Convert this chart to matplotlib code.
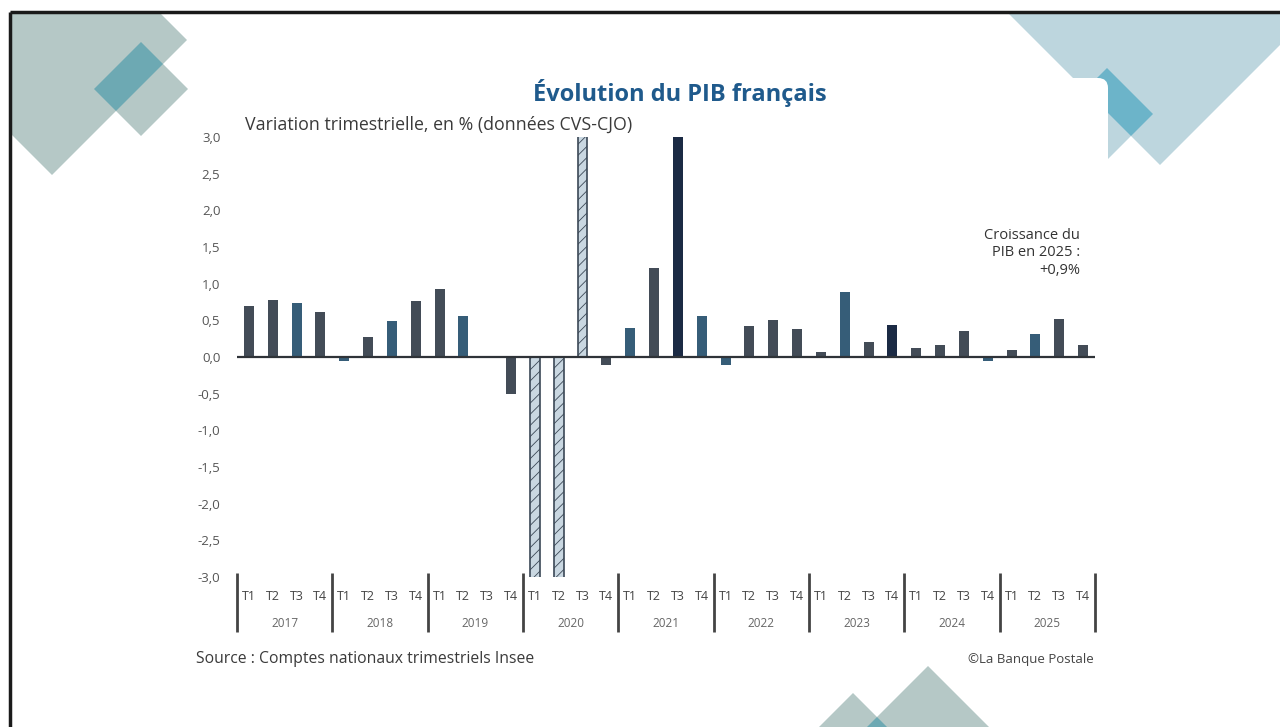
import numpy as np
import matplotlib
matplotlib.use("Agg")
import matplotlib.pyplot as plt
from matplotlib.patches import Polygon, FancyBboxPatch, Rectangle

# data
years = ["2017", "2018", "2019", "2020", "2021", "2022", "2023", "2024", "2025"]
quarters = ["T1", "T2", "T3", "T4"]
pib_var = [0.69, 0.78, 0.73, 0.61,
           -0.05, 0.27, 0.49, 0.76,
           0.93, 0.56, -0.01, -0.50,
           -5.4, -13.2, 18.6, -0.11,
           0.40, 1.21, 3.00, 0.56,
           -0.11, 0.42, 0.51, 0.38,
           0.07, 0.88, 0.20, 0.43,
           0.12, 0.17, 0.36, -0.05,
           0.09, 0.32, 0.52, 0.16]
yticks = [3.0, 2.5, 2.0, 1.5, 1.0, 0.5, 0.0, -0.5, -1.0, -1.5, -2.0, -2.5, -3.0]

# styles
DARK = "#434c57"
BLUE = "#365d78"
NAVY = "#1b2a44"
COVID = "#c9d7e1"
kinds = "ddbd" "bdbd" "dbdd" "cccd" "bdnb" "bddd" "dbdn" "dddb" "dbdd"
cmap = {"d": DARK, "b": BLUE, "n": NAVY, "c": COVID}

W, H = 1280, 727
plt.rcParams["font.family"] = ["Open Sans", "DejaVu Sans"]
plt.rcParams["hatch.linewidth"] = 0.6

fig = plt.figure(figsize=(W / 100, H / 100), dpi=100)
fig.patch.set_facecolor("white")


def fx(x):
    return x / W


def fy(y):
    return 1 - y / H


# background layer with decorations, in pixel coordinates
bg = fig.add_axes([0, 0, 1, 1], zorder=0)
bg.set_xlim(0, W)
bg.set_ylim(H, 0)
bg.axis("off")

LIGHT_G = "#b5c8c6"
DARK_G = "#6da9b3"
LIGHT_B = "#bdd6de"
DARK_B = "#6cb4c9"


def diamond(cx, cy, r):
    return [(cx, cy - r), (cx + r, cy), (cx, cy + r), (cx - r, cy)]


def deco(big, small, light, dark):
    p_big = Polygon(big, closed=True, fc=light, ec="none", zorder=1)
    bg.add_patch(p_big)
    bg.add_patch(Polygon(small, closed=True, fc=light, ec="none", zorder=1))
    ov = Polygon(small, closed=True, fc=dark, ec="none", zorder=2)
    bg.add_patch(ov)
    ov.set_clip_path(p_big)


# top left
deco(diamond(52, 40, 135), diamond(141, 89, 47), LIGHT_G, DARK_G)
# top right
deco(diamond(1160, -85, 250), diamond(1107, 114, 46), LIGHT_B, DARK_B)
# bottom
deco(diamond(928, 900, 234), diamond(853, 780, 87), LIGHT_G, DARK_G)

# white chart panel
bg.add_patch(FancyBboxPatch((190, 78), 918, 587, boxstyle="round,pad=0,rounding_size=10",
                            fc="white", ec="none", zorder=3))
# white margin outside frame
bg.add_patch(Rectangle((0, 0), 10, H, fc="white", ec="none", zorder=4))
bg.add_patch(Rectangle((0, 0), W, 12, fc="white", ec="none", zorder=4))
bg.plot([10, 10], [12, H], color="#1a1a1a", lw=2.5, zorder=5, solid_capstyle="butt")
bg.plot([10, W], [12, 12], color="#1a1a1a", lw=2.5, zorder=5, solid_capstyle="butt")

# chart
left, right, top, bottom = 237, 1095, 137, 577
ax = fig.add_axes([fx(left), fy(bottom), fx(right - left), (bottom - top) / H], zorder=2)
ax.patch.set_alpha(0)

x = np.arange(len(pib_var))
for xi, v, k in zip(x, pib_var, kinds):
    if k == "c":
        ax.bar(xi, v, width=0.40, color=COVID, edgecolor="#3b4856", linewidth=1.2,
               hatch="///", zorder=2)
    else:
        ax.bar(xi, v, width=0.42, color=cmap[k], zorder=2)

ax.axhline(0, color="#2f3338", lw=1.6, zorder=3)
ax.set_xlim(-0.5, len(pib_var) - 0.5)
ax.set_ylim(-3, 3)
for s in ax.spines.values():
    s.set_visible(False)

ax.set_yticks(yticks)
ax.set_yticklabels([f"{v:.1f}".replace(".", ",") for v in yticks],
                   fontsize=9.5, color="#555555")
ax.tick_params(axis="y", length=0, pad=12)

ax.set_xticks(x)
ax.set_xticklabels(quarters * len(years), fontsize=9, color="#444444")
ax.tick_params(axis="x", length=0, pad=9)

trans = ax.get_xaxis_transform()
for i, yr in enumerate(years):
    ax.text(i * 4 + 1.5, -0.105, yr, transform=trans, ha="center", va="center",
            fontsize=8.5, color="#666666")
for i in range(len(years) + 1):
    ax.plot([i * 4 - 0.5, i * 4 - 0.5], [0.01, -0.125], transform=trans, color="#444444",
            lw=2, clip_on=False, solid_capstyle="butt")

# texts
fig.text(fx(680), fy(93), "Évolution du PIB français", ha="center", va="center",
         fontsize=17, fontweight="bold", color="#1f5a8c")
fig.text(fx(245), fy(125), "Variation trimestrielle, en % (données CVS-CJO)", ha="left",
         va="center", fontsize=12.8, color="#3a3a3a")
fig.text(fx(1080), fy(253), "Croissance du\nPIB en 2025 :\n+0,9%", ha="right", va="center",
         fontsize=10.5, color="#333333", linespacing=1.25)
fig.text(fx(196), fy(659), "Source : Comptes nationaux trimestriels Insee", ha="left",
         va="center", fontsize=11.3, color="#3a3a3a")
fig.text(fx(1094), fy(660), "©La Banque Postale", ha="right", va="center",
         fontsize=9.5, color="#444444")

fig.savefig("out.png", dpi=100)
